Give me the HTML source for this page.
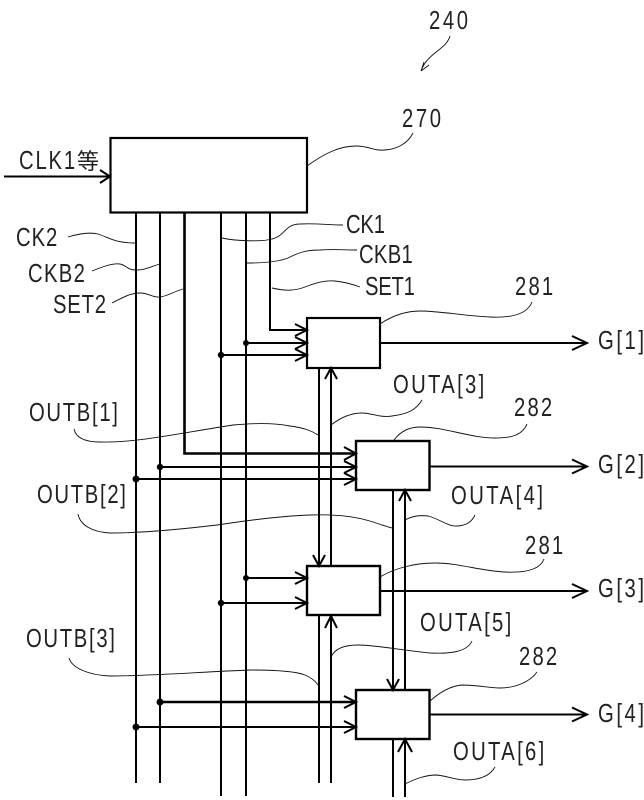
<!DOCTYPE html>
<html><head><meta charset="utf-8"><style>
html,body{margin:0;padding:0;background:#fff}
svg{display:block}
text{font-family:"Liberation Sans","Noto Sans CJK JP",sans-serif;font-size:26px;fill:#222}
.l{stroke:#000;stroke-width:2;fill:none}
.b{stroke:#000;stroke-width:2.6;fill:none}
.t{stroke:#111;stroke-width:.9;fill:none}
.a{stroke:#000;stroke-width:2;fill:none}
</style></head><body>
<svg width="644" height="800" viewBox="0 0 644 800" xmlns="http://www.w3.org/2000/svg">
<!-- verticals -->
<path class="l" d="M136 212V783M160 212V783M221 212V796M246 212V796"/>
<path class="b" d="M184.500 212V453.500H356"/>
<path class="l" d="M270 212V330H307"/>
<path class="l" d="M319 368V566M331 368V566M319 616V783M331 616V783"/>
<path class="l" d="M393 490V690M405 490V690M393 739V797M405 739V797"/>
<!-- horizontals -->
<path class="l" d="M4 176.500H110M246 343H307M221 355H307M160 467H356M136 479H356M246 578H307M221 603H307M136 727H356"/>
<path class="b" d="M160 702H356"/>
<path class="l" d="M380 343H586M430 466.500H586M380 591H586M430 714.500H586"/>
<!-- dots -->
<g fill="#000"><circle cx="246" cy="343" r="3"/><circle cx="221" cy="355" r="3.200"/><circle cx="160" cy="467" r="3.200"/><circle cx="136" cy="479" r="3.500"/><circle cx="246" cy="578" r="3"/><circle cx="221" cy="603" r="3.200"/><circle cx="160" cy="702" r="3.500"/><circle cx="136" cy="727" r="3.500"/></g>
<!-- boxes -->
<g fill="#fff" stroke="#000">
<rect x="110.500" y="138" width="196.500" height="74.500" stroke-width="2.200"/>
<rect x="307" y="318" width="73" height="50" stroke-width="2.200"/>
<rect x="356" y="441" width="73.500" height="49" stroke-width="2.400"/>
<rect x="307" y="566" width="73" height="49" stroke-width="2.400"/>
<rect x="356" y="690" width="73.500" height="49" stroke-width="2.400"/>
</g>
<!-- arrowheads -->
<path class="a" d="M100 170L110 176.500L100 183M295 324L307 330L295 336M295 337L307 343L295 349M295 349L307 355L295 361M344 447L356 453.500L344 460M344 461L356 467L344 473M344 473L356 479L344 485M295 572L307 578L295 584M295 597L307 603L295 609M344 696L356 702L344 708M344 721L356 727L344 733"/>
<path class="a" d="M572 336L587 343L572 350M572 459.500L587 466.500L572 473.500M572 584L587 591L572 598M572 707.500L587 714.500L572 721.500"/>
<path class="a" d="M325 379L331 368L337 379M399 501L405 490L411 501M325 628L331 616L337 628M398 752L405 739L412 752"/>
<path class="a" d="M313 555L319 566L325 555M387 679L393 690L399 679"/>
<!-- thin leaders -->
<path class="t" d="M450 36C446 50 428 52 421 71M421 71L424 62M421 71L429 65"/>
<path class="t" d="M307 166C325 153 340 146 356 146C370 146 372 151 385 150C398 149 408 143 413 133"/>
<path class="t" d="M68 237C78 234 90 232 98 234C110 238 115 243 135 243"/>
<path class="t" d="M92 271C102 267 112 263 120 264C126 265 127 270 136 270C146 270 152 266 160 264"/>
<path class="t" d="M112 303C122 298 130 293 140 293C150 293 152 298 160 297C168 296 175 291 183 289"/>
<path class="t" d="M222 238C235 241 262 242 272 239C285 236 285 224 300 224C315 223 330 225 343 225"/>
<path class="t" d="M247 263C262 263 278 262 288 258C298 253 305 250 320 250C335 249 345 250 357 250"/>
<path class="t" d="M272 288C285 291 295 291 305 287C315 283 325 280 335 281C345 282 352 284 360 287"/>
<path class="t" d="M380 324C392 316 405 311 420 311C440 311 465 316 490 317C510 318 527 315 532 302"/>
<path class="t" d="M331 425C340 418 350 413 362 413C372 413 380 418 392 416C408 414 416 410 422 400"/>
<path class="t" d="M394 440C400 432 408 427 420 427C445 427 470 438 495 438C510 438 522 436 527 424"/>
<path class="t" d="M405 520C412 516 420 515 428 516C440 519 448 527 458 526C468 525 472 521 475 515"/>
<path class="t" d="M74 429C76 438 85 442 100 442C135 443 175 434 233 425C255 423 275 423 290 426C305 428 312 431 318 435"/>
<path class="t" d="M78 514C80 525 92 532 110 533C140 533 175 530 217 525C250 520 280 516 310 515C335 514 355 516 373 522C382 525 388 527 392 528"/>
<path class="t" d="M380 577C395 568 415 563 435 563C460 563 480 571 505 572C525 573 540 570 544 559"/>
<path class="t" d="M331 657C335 648 345 645 358 645C375 645 400 650 430 653C450 654 467 652 472 641"/>
<path class="t" d="M430 701C440 692 450 686 462 685C478 685 490 688 500 688C515 688 530 682 537 672"/>
<path class="t" d="M405 784C415 779 425 775 437 775C447 776 455 780 465 780C480 780 490 776 495 767"/>
<path class="t" d="M69 658C72 668 88 675 110 676C150 676 200 672 250 670C275 670 295 671 305 675C312 678 316 682 318 685"/>
<!-- labels -->
<text transform="translate(429 29) scale(.78 1)" textLength="50" lengthAdjust="spacing">240</text>
<text transform="translate(402 127) scale(.78 1)" textLength="50" lengthAdjust="spacing">270</text>
<text transform="translate(19 169) scale(.78 1)" textLength="72" lengthAdjust="spacing">CLK1</text>
<text x="77" y="169" style="font-size:22px">等</text>
<text transform="translate(16 246) scale(.78 1)" textLength="53" lengthAdjust="spacing">CK2</text>
<text transform="translate(28 282) scale(.78 1)" textLength="73" lengthAdjust="spacing">CKB2</text>
<text transform="translate(53 313) scale(.78 1)" textLength="68" lengthAdjust="spacing">SET2</text>
<text transform="translate(346 233) scale(.78 1)" textLength="50" lengthAdjust="spacing">CK1</text>
<text transform="translate(359 263) scale(.78 1)" textLength="69" lengthAdjust="spacing">CKB1</text>
<text transform="translate(365 295) scale(.78 1)" textLength="64" lengthAdjust="spacing">SET1</text>
<text transform="translate(515 295) scale(.78 1)" textLength="49" lengthAdjust="spacing">281</text>
<text transform="translate(514 416) scale(.78 1)" textLength="49" lengthAdjust="spacing">282</text>
<text transform="translate(525 554) scale(.78 1)" textLength="49" lengthAdjust="spacing">281</text>
<text transform="translate(519 665) scale(.78 1)" textLength="49" lengthAdjust="spacing">282</text>
<text transform="translate(598 349) scale(.78 1)" textLength="59" lengthAdjust="spacing">G[1]</text>
<text transform="translate(598 473) scale(.78 1)" textLength="59" lengthAdjust="spacing">G[2]</text>
<text transform="translate(598 597) scale(.78 1)" textLength="59" lengthAdjust="spacing">G[3]</text>
<text transform="translate(598 722) scale(.78 1)" textLength="59" lengthAdjust="spacing">G[4]</text>
<text transform="translate(393 393) scale(.78 1)" textLength="117" lengthAdjust="spacing">OUTA[3]</text>
<text transform="translate(451 504) scale(.78 1)" textLength="118" lengthAdjust="spacing">OUTA[4]</text>
<text transform="translate(420 631) scale(.78 1)" textLength="117" lengthAdjust="spacing">OUTA[5]</text>
<text transform="translate(453 760) scale(.78 1)" textLength="117" lengthAdjust="spacing">OUTA[6]</text>
<text transform="translate(29 421) scale(.78 1)" textLength="114" lengthAdjust="spacing">OUTB[1]</text>
<text transform="translate(37 503) scale(.78 1)" textLength="114" lengthAdjust="spacing">OUTB[2]</text>
<text transform="translate(26 647) scale(.78 1)" textLength="114" lengthAdjust="spacing">OUTB[3]</text>
</svg>
</body></html>
